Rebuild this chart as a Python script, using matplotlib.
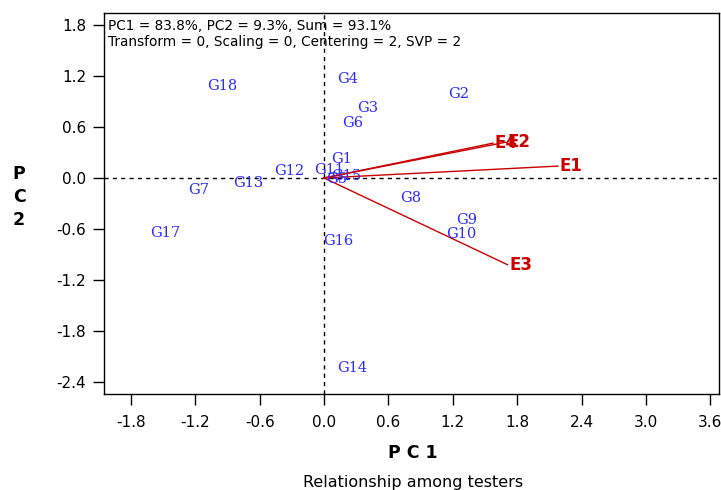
import matplotlib
matplotlib.use("Agg")
import matplotlib.pyplot as plt

# Genotype (entry) scores
genotypes = ["G1", "G2", "G3", "G4", "G5", "G6", "G7", "G8", "G9", "G10",
             "G11", "G12", "G13", "G14", "G15", "G16", "G17", "G18"]
g_pc1 = [0.16, 1.25, 0.41, 0.22, 0.12, 0.27, -1.17, 0.81, 1.33, 1.28,
         0.05, -0.32, -0.71, 0.26, 0.21, 0.13, -1.48, -0.95]
g_pc2 = [0.22, 0.99, 0.82, 1.16, -0.01, 0.65, -0.14, -0.24, -0.49, -0.66,
         0.09, 0.08, -0.06, -2.24, 0.02, -0.74, -0.65, 1.08]

# Tester (environment) vectors
testers = ["E1", "E2", "E3", "E4"]
e_pc1 = [2.18, 1.69, 1.71, 1.575]
e_pc2 = [0.14, 0.42, -1.02, 0.41]

xticks = [-1.8, -1.2, -0.6, 0.0, 0.6, 1.2, 1.8, 2.4, 3.0, 3.6]
yticks = [1.8, 1.2, 0.6, 0.0, -0.6, -1.2, -1.8, -2.4]

W, H = 721, 490
fig = plt.figure(figsize=(W / 100, H / 100), dpi=100)
ax = fig.add_axes([104 / W, 1 - 394 / H, (719 - 104) / W, (394 - 13) / H])
ax.set_xlim(-2.05, 3.68)
ax.set_ylim(-2.54, 1.94)

ax.axhline(0, color="black", lw=1.0, ls=(0, (3, 3)), zorder=1)
ax.axvline(0, color="black", lw=1.0, ls=(0, (3, 3)), zorder=1)

red = "#cc0000"
for name, x, y in zip(testers, e_pc1, e_pc2):
    ax.plot([0, x], [0, y], color=red, lw=1.0, zorder=2)
    ax.text(x + 0.015, y, name, color=red, fontsize=12, fontweight="bold",
            family="DejaVu Sans", ha="left", va="center", zorder=3)

blue = "#2a2aff"
for name, x, y in zip(genotypes, g_pc1, g_pc2):
    ax.text(x, y, name, color=blue, fontsize=10.5, family="DejaVu Serif",
            ha="center", va="center", zorder=4)

ax.set_xticks(xticks)
ax.set_xticklabels([f"{t:.1f}" for t in xticks])
ax.set_yticks(yticks)
ax.set_yticklabels([f"{t:.1f}" for t in yticks])
ax.tick_params(direction="out", length=8, width=1, labelsize=11)
ax.tick_params(axis="x", pad=7)
ax.tick_params(axis="y", pad=5)
for lab in ax.get_xticklabels() + ax.get_yticklabels():
    lab.set_family("DejaVu Sans")
for s in ax.spines.values():
    s.set_linewidth(1.0)

ax.text(0.006, 0.985, "PC1 = 83.8%, PC2 = 9.3%, Sum = 93.1%\nTransform = 0, Scaling = 0, Centering = 2, SVP = 2",
        transform=ax.transAxes, ha="left", va="top", fontsize=9.8,
        family="DejaVu Sans", linespacing=1.2)

fig.text(413 / W, 1 - 453 / H, "P C 1", ha="center", va="center",
         fontsize=12.5, fontweight="bold", family="DejaVu Sans")
fig.text(19 / W, 1 - 197 / H, "P\nC\n2", ha="center", va="center",
         fontsize=12.5, fontweight="bold", family="DejaVu Sans", linespacing=1.35)
fig.text(413 / W, 1 - 482 / H, "Relationship among testers", ha="center",
         va="center", fontsize=11.5, family="DejaVu Sans")

fig.savefig("out.png", dpi=100)
